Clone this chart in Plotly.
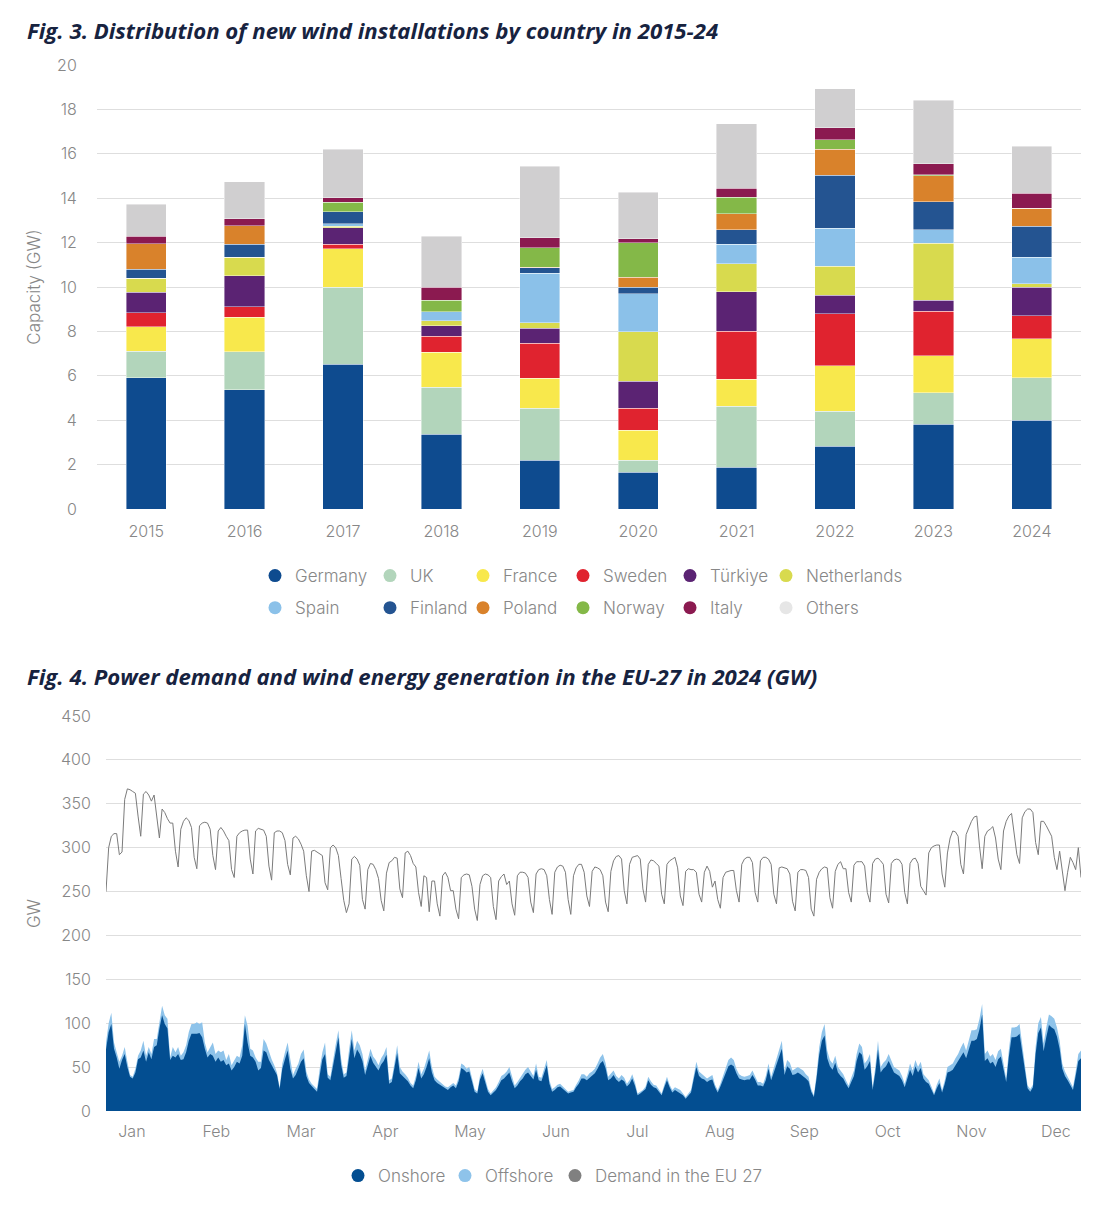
import plotly.graph_objects as go

# ---------------- Fig. 3 data (GW of new installations) ----------------
years = ["2015", "2016", "2017", "2018", "2019", "2020", "2021", "2022", "2023", "2024"]
countries = ["Germany", "UK", "France", "Sweden", "Türkiye", "Netherlands",
             "Spain", "Finland", "Poland", "Norway", "Italy", "Others"]
germany     = [5.92, 5.38, 6.52, 3.36, 2.19, 1.65, 1.89, 2.82, 3.82, 4.00]
uk          = [1.19, 1.70, 3.48, 2.13, 2.35, 0.54, 2.74, 1.59, 1.41, 1.91]
france      = [1.09, 1.56, 1.72, 1.57, 1.34, 1.35, 1.22, 2.05, 1.67, 1.75]
sweden      = [0.65, 0.48, 0.20, 0.72, 1.59, 1.00, 2.16, 2.34, 2.01, 1.05]
turkiye     = [0.91, 1.39, 0.76, 0.47, 0.67, 1.22, 1.78, 0.83, 0.49, 1.29]
netherlands = [0.64, 0.82, 0.05, 0.22, 0.26, 2.22, 1.26, 1.31, 2.58, 0.15]
spain       = [0.00, 0.00, 0.12, 0.41, 2.21, 1.72, 0.87, 1.70, 0.60, 1.20]
finland     = [0.39, 0.60, 0.55, 0.00, 0.26, 0.30, 0.66, 2.40, 1.27, 1.38]
poland      = [1.16, 0.84, 0.00, 0.00, 0.03, 0.45, 0.72, 1.17, 1.16, 0.81]
norway      = [0.00, 0.00, 0.41, 0.52, 0.87, 1.54, 0.75, 0.43, 0.05, 0.00]
italy       = [0.33, 0.30, 0.22, 0.60, 0.45, 0.18, 0.39, 0.54, 0.50, 0.69]
others      = [1.45, 1.68, 2.18, 2.28, 3.22, 2.09, 2.91, 1.74, 2.85, 2.10]
country_values = [germany, uk, france, sweden, turkiye, netherlands,
                  spain, finland, poland, norway, italy, others]

# ---------------- Fig. 4 data (daily GW, 2024) ----------------
month_labels = ["Jan", "Feb", "Mar", "Apr", "May", "Jun",
                "Jul", "Aug", "Sep", "Oct", "Nov", "Dec"]
month_tick_days = [9.7, 41.3, 73.0, 104.6, 136.3, 168.4, 198.9, 229.8, 261.4, 292.6, 324.0, 355.6]

demand = [
    250,300,313,316,316,292,295, 355,367,366,364,362,336,313, 361,364,360,353,360,335,311, 344,340,333,328,328,296,278, 321,330,334,
    331,323,289,276, 325,328,329,328,321,291,275, 319,323,319,313,308,275,266, 313,317,319,320,320,287,270, 319,322,321,320,
    313,279,263, 317,319,319,317,308,281,269, 311,313,310,304,296,268,250, 296,297,295,292,291,260,252, 300,303,300,291,265,240,226,
    236,287,290,287,280,241,230, 275,282,281,275,265,240,228, 271,283,285,289,288,253,243, 294,296,291,282,278,249,233, 268,266,
    227,262,262,236,222, 268,272,266,251,251,230,219, 266,269,270,269,256,230,217, 258,268,270,269,266,233,218, 262,267,270,258,262,
    236,223, 268,272,272,271,266,238,226, 270,275,276,275,268,241,224, 272,278,280,279,272,241,224, 268,277,281,281,272,245,233,
    273,278,277,275,268,238,227, 273,285,290,291,287,251,236, 281,289,290,291,287,253,238, 281,286,285,282,279,247,236, 281,285,287,
    289,277,245,234, 273,276,275,275,272,247,238, 272,279,273,255,262,241,231, 266,272,273,274,274,251,238, 281,287,289,289,283,249,
    238, 285,289,289,287,281,247,236, 277,278,277,276,270,239,228, 272,275,275,274,266,230,222, 264,272,276,278,277,243,231, 273,
    281,284,276,276,249,238, 280,284,284,284,279,249,238, 282,287,288,285,281,247,237, 282,286,287,286,281,249,236, 282,287,288,282,
    256,251,246, 294,300,302,303,303,270,255, 294,311,319,318,313,281,270, 315,323,330,335,336,302,276, 313,319,321,324,311,287,
    275, 319,330,336,339,313,292,282, 334,341,344,344,340,306,292, 330,330,325,318,313,289,275, 296,272,251,272,289,283,275, 300,266,
]

# top edge of the light-blue area (onshore + offshore)
onshore_plus_offshore = [
    78,100,112,78,67,56,63, 73,56,41,39,48,63,69, 80,63,73,65,82,82,101, 120,109,105,61,73,67,73, 63,67,75,
    90,99,99,101, 99,101,78,67,73,78,65, 69,67,69,58,65,52,58, 63,61,75,109,97,71,69, 61,56,56,82,
    77,67,59, 52,44,27,54,67,78,59, 41,48,54,65,70,45,36, 31,28,25,48,67,78,42, 39,60,76,92,60,42,44,
    70,92,69,80,75,65,46, 60,71,62,58,52,60,65, 73,35,37,55,75,50,45, 42,38,32,29,40,56,42, 48,58,
    69,50,39,36,33, 31,28,27,30,32,29,38, 54,52,48,50,38,25,22, 40,48,35,25,20,24,27, 33,40,42,45,50,
    38,29, 33,38,42,47,50,45,40, 54,39,38,48,58,35,25, 27,30,31,28,25,22,23, 24,30,35,42,42,39,43,
    45,48,54,61,65,55,39, 42,46,40,37,41,38,31, 35,42,33,20,22,24,28, 39,34,30,29,25,20,30, 39,30,24,
    27,25,24,20, 16,20,24,40,56,45,42, 40,37,39,41,30,24,31, 40,50,58,61,58,48,42, 40,39,40,41,46,40,
    33, 33,31,40,54,39,50,60, 69,80,46,58,55,46,48, 50,48,46,42,39,25,18, 42,73,90,99,69,58,54, 63,
    50,46,42,35,29,38, 46,65,77,73,54,58,65, 27,50,80,50,55,58,65, 58,50,48,46,40,31,42, 54,46,58,50,
    56,42,38, 35,28,20,30,37,24,35, 50,52,54,60,65,72,78, 69,80,92,92,93,105,122, 65,69,62,65,58,68,
    71, 52,37,70,95,95,96,99, 77,50,29,25,30,73,100, 107,77,95,110,108,105,95, 80,54,45,39,33,27,45, 65,69,
]

# top edge of the dark-blue area (onshore)
onshore = [
    70,90,99,71,61,48,58, 65,50,39,37,44,59,61, 69,56,67,59,73,75,94, 109,99,94,58,63,61,65, 58,59,67,
    80,88,88,88, 89,84,71,61,65,63,56, 61,56,58,52,54,46,50, 56,54,63,99,78,63,61, 56,46,49,69,
    67,58,52, 46,41,25,48,59,69,48, 37,41,48,56,60,40,32, 28,25,22,42,59,65,38, 35,52,66,84,53,38,40,
    62,82,60,70,65,57,41, 53,63,55,51,46,53,57, 64,31,33,48,66,43,40, 37,34,29,26,35,49,37, 42,50,
    60,44,35,32,30, 28,25,24,27,29,26,34, 49,47,44,45,34,22,20, 36,43,31,22,18,21,24, 29,35,37,40,44,
    34,26, 29,34,37,42,44,40,36, 47,35,34,43,52,31,22, 24,27,28,25,22,20,21, 22,27,31,37,37,35,38,
    40,43,48,54,57,49,35, 37,41,36,33,36,34,28, 31,37,29,18,20,22,25, 35,30,27,26,22,18,27, 35,27,21,
    24,22,21,18, 14,18,21,36,50,40,37, 36,33,35,36,27,21,28, 35,44,51,53,51,43,37, 36,35,36,36,41,36,
    29, 29,28,35,48,35,44,53, 61,71,41,51,48,41,42, 44,42,40,37,34,22,16, 37,64,80,86,60,51,47, 55,
    44,40,37,31,26,33, 40,57,67,64,47,51,57, 24,44,70,44,48,51,57, 51,44,42,40,35,27,37, 47,40,51,44,
    49,37,33, 31,25,18,26,32,21,31, 44,45,47,52,57,62,67, 60,70,80,80,82,93,110, 57,60,54,56,50,59,
    62, 46,33,62,84,84,85,88, 68,44,26,22,27,65,89, 95,68,84,98,95,93,85, 71,48,40,35,29,24,40, 57,60,
]

# ---------------- styles ----------------
OFF = 8                      # page body margin
W, H = 1107 - 2 * OFF, 1215 - 2 * OFF
FONT = "Inter"
GREY = "#878787"
TITLE_COL = "#17233f"
TITLE_FONT = "Open Sans"
bar_colors = ["#0e4b8f", "#b2d5bb", "#f8e84c", "#e0232f", "#5b2373", "#d8da4e",
              "#8bc1e9", "#245491", "#d9822b", "#84b848", "#8b1a50", "#d0cfd0"]
legend_colors = bar_colors[:-1] + ["#e6e6e6"]
ONSHORE_COL = "#034e91"
OFFSHORE_COL = "#8ec3ea"
DEMAND_COL = "#7b7b7b"


def fx(px):
    """page pixel x -> paper fraction"""
    return (px - OFF) / W


def fy(py):
    """page pixel y -> paper fraction"""
    return 1 - (py - OFF) / H


fig = go.Figure()

# stacked bars
for name, vals, col in zip(countries, country_values, bar_colors):
    fig.add_trace(go.Bar(
        x=years, y=vals, name=name, xaxis="x", yaxis="y", showlegend=False,
        marker=dict(color=col, line=dict(width=0.6, color="rgba(255,255,255,0.7)")),
    ))

# legend columns for Fig. 3 (two rows, six columns)
col_x = [277, 392, 485, 585, 692, 788]
for i, (name, col) in enumerate(zip(countries, legend_colors)):
    leg_idx = (i % 6) + 1
    fig.add_trace(go.Scatter(
        x=[None], y=[None], mode="markers", name=name, xaxis="x", yaxis="y",
        marker=dict(symbol="circle", size=13, color=col),
        legend="legend" if leg_idx == 1 else f"legend{leg_idx}",
        legendgroup=name, showlegend=True,
    ))

# Fig. 4 areas and line
days = list(range(len(demand)))
fig.add_trace(go.Scatter(
    x=days, y=onshore_plus_offshore, name="Offshore", xaxis="x2", yaxis="y2",
    mode="lines", line=dict(width=0, color=OFFSHORE_COL), fill="tozeroy",
    fillcolor=OFFSHORE_COL, showlegend=False,
))
fig.add_trace(go.Scatter(
    x=days, y=onshore, name="Onshore", xaxis="x2", yaxis="y2",
    mode="lines", line=dict(width=0, color=ONSHORE_COL), fill="tozeroy",
    fillcolor=ONSHORE_COL, showlegend=False,
))
fig.add_trace(go.Scatter(
    x=days, y=demand, name="Demand in the EU 27", xaxis="x2", yaxis="y2",
    mode="lines", line=dict(width=1, color=DEMAND_COL), showlegend=False,
))
# circle legend markers for Fig. 4
for name, col, leg in [("Onshore", ONSHORE_COL, "legend7"),
                       ("Offshore", OFFSHORE_COL, "legend8"),
                       ("Demand in the EU 27", "#808080", "legend9")]:
    fig.add_trace(go.Scatter(
        x=[None], y=[None], mode="markers", name=name, xaxis="x2", yaxis="y2",
        marker=dict(symbol="circle", size=13, color=col), legend=leg, showlegend=True,
    ))

tick_font = dict(family=FONT, size=16, color=GREY, weight=300)
leg_font = dict(family=FONT, size=17, color=GREY, weight=300)

legends = {}
for k, cx in enumerate(col_x, start=1):
    key = "legend" if k == 1 else f"legend{k}"
    legends[key] = dict(
        x=fx(cx - 22), y=fy(558), xanchor="left", yanchor="top",
        orientation="v", font=leg_font, bgcolor="rgba(0,0,0,0)",
        tracegroupgap=7, traceorder="grouped", itemclick=False, itemdoubleclick=False,
    )
for key, cx in [("legend7", 360), ("legend8", 467), ("legend9", 577)]:
    legends[key] = dict(
        x=fx(cx - 22), y=fy(1158), xanchor="left", yanchor="top",
        orientation="h", font=leg_font, bgcolor="rgba(0,0,0,0)",
        itemclick=False, itemdoubleclick=False,
    )

fig.update_layout(
    width=W, height=H,
    margin=dict(l=0, r=0, t=0, b=0, autoexpand=False),
    paper_bgcolor="white", plot_bgcolor="white",
    barmode="stack", bargap=0.59,
    font=dict(family=FONT, color=GREY),
    xaxis=dict(
        domain=[fx(97), fx(1081)], anchor="y", type="category",
        showgrid=False, showline=False, zeroline=False,
        tickfont=tick_font, ticks="outside", ticklen=8, tickcolor="rgba(0,0,0,0)",
        automargin=False,
    ),
    yaxis=dict(
        domain=[fy(509), fy(65)], anchor="x", range=[0, 20], dtick=2,
        showgrid=True, gridcolor="#dedede", gridwidth=1, zeroline=False, showline=False,
        tickfont=tick_font, ticks="outside", ticklen=16, tickcolor="rgba(0,0,0,0)",
        title=dict(text="Capacity (GW)", font=dict(family=FONT, size=17, color=GREY, weight=300), standoff=12),
        automargin=False,
    ),
    xaxis2=dict(
        domain=[fx(106), fx(1081)], anchor="y2", range=[0, 365],
        tickmode="array", tickvals=month_tick_days, ticktext=month_labels,
        showgrid=False, showline=False, zeroline=False,
        tickfont=tick_font, ticks="outside", ticklen=6, tickcolor="rgba(0,0,0,0)",
        automargin=False,
    ),
    yaxis2=dict(
        domain=[fy(1111), fy(716)], anchor="x2", range=[0, 450], dtick=50,
        showgrid=True, gridcolor="#dedede", gridwidth=1, zeroline=False, showline=False,
        tickfont=tick_font, ticks="outside", ticklen=11, tickcolor="rgba(0,0,0,0)",
        title=dict(text="GW", font=dict(family=FONT, size=17, color=GREY, weight=300), standoff=16),
        automargin=False,
    ),
    annotations=[
        dict(text="Fig. 3. Distribution of new wind installations by country in 2015-24",
             x=fx(25), y=fy(30), xref="paper", yref="paper", xanchor="left", yanchor="middle",
             showarrow=False,
             font=dict(family=TITLE_FONT, size=22.2, color=TITLE_COL, weight="bold", style="italic")),
        dict(text="Fig. 4. Power demand and wind energy generation in the EU-27 in 2024 (GW)",
             x=fx(25), y=fy(676), xref="paper", yref="paper", xanchor="left", yanchor="middle",
             showarrow=False,
             font=dict(family=TITLE_FONT, size=22.2, color=TITLE_COL, weight="bold", style="italic")),
    ],
    **legends,
)

fig.write_html("out.html")
